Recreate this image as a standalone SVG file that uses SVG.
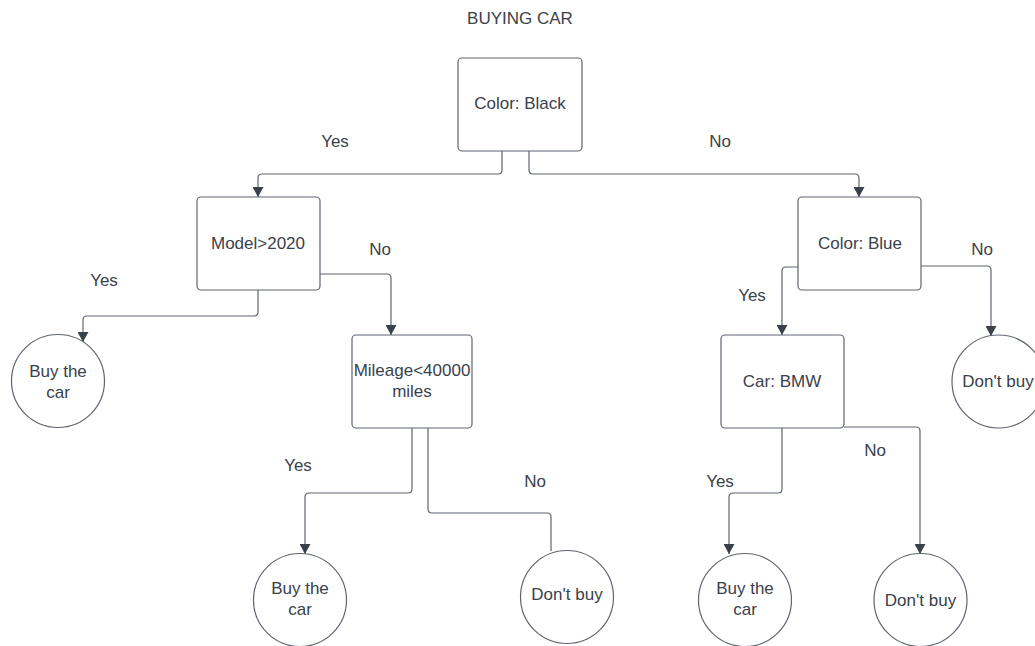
<svg xmlns="http://www.w3.org/2000/svg" width="1035" height="646" viewBox="0 0 1035 646">
<style>
.box{fill:#ffffff;stroke:#5f6570;stroke-width:1.2}
.t{font-family:"Liberation Sans",Arial,sans-serif;font-size:17px;fill:#3a414a;text-anchor:middle;dominant-baseline:central}
.c{fill:none;stroke:#5f6570;stroke-width:1.2}
</style>
<defs>
<marker id="ah" markerUnits="userSpaceOnUse" markerWidth="10" markerHeight="11" refX="10" refY="5.5" orient="auto">
<path d="M0,0 L10,5.5 L0,11 z" fill="#3a414a"/>
</marker>
</defs>
<rect width="1035" height="646" fill="#ffffff"/>
<text class="t" x="520" y="18">BUYING CAR</text>
<g id="connectors">
<path class="c" marker-end="url(#ah)" d="M502,151 V170 Q502,174 498,174 H262 Q258,174 258,178 V197"/>
<path class="c" marker-end="url(#ah)" d="M529,151 V170 Q529,174 533,174 H855 Q859,174 859,178 V197"/>
<path class="c" marker-end="url(#ah)" d="M258,290 V312 Q258,316 254,316 H87 Q83,316 83,320 V342"/>
<path class="c" marker-end="url(#ah)" d="M320,274 H387 Q391,274 391,278 V335"/>
<path class="c" marker-end="url(#ah)" d="M412,428 V489 Q412,493 408,493 H309 Q305,493 305,497 V554"/>
<path class="c" d="M428,428 V509 Q428,513 432,513 H547 Q551,513 551,517 V551"/>
<path class="c" marker-end="url(#ah)" d="M798,267 H786 Q782,267 782,271 V335"/>
<path class="c" marker-end="url(#ah)" d="M921,266 H987 Q991,266 991,270 V336"/>
<path class="c" marker-end="url(#ah)" d="M782,428 V489 Q782,493 778,493 H733 Q729,493 729,497 V554"/>
<path class="c" marker-end="url(#ah)" d="M844,427 H916 Q920,427 920,431 V554"/>
<text class="t" x="335" y="141">Yes</text>
<text class="t" x="720" y="141">No</text>
<text class="t" x="104" y="280">Yes</text>
<text class="t" x="380" y="249">No</text>
<text class="t" x="298" y="465">Yes</text>
<text class="t" x="535" y="481">No</text>
<text class="t" x="982" y="249">No</text>
<text class="t" x="752" y="295">Yes</text>
<text class="t" x="720" y="481">Yes</text>
<text class="t" x="875" y="450">No</text>
</g>
<g id="root">
<rect class="box" x="458" y="58" width="124" height="93" rx="4"/>
<text class="t" x="520" y="103">Color: Black</text>
</g>
<g id="model">
<rect class="box" x="197" y="197" width="123" height="93" rx="4"/>
<text class="t" x="258" y="243">Model&gt;2020</text>
</g>
<g id="blue">
<rect class="box" x="798" y="197" width="123" height="93" rx="4"/>
<text class="t" x="860" y="243">Color: Blue</text>
</g>
<g id="buy1">
<circle class="box" cx="58" cy="381" r="46.5"/>
<text class="t" x="58" y="371">Buy the</text>
<text class="t" x="58" y="392">car</text>
</g>
<g id="mileage">
<rect class="box" x="352" y="335" width="120" height="93" rx="4"/>
<text class="t" x="412" y="370">Mileage&lt;40000</text>
<text class="t" x="412" y="391">miles</text>
</g>
<g id="bmw">
<rect class="box" x="721" y="335" width="123" height="93" rx="4"/>
<text class="t" x="782" y="381">Car: BMW</text>
</g>
<g id="dontbuy1">
<circle class="box" cx="998.5" cy="381.5" r="46.5"/>
<text class="t" x="998" y="381">Don't buy</text>
</g>
<g id="buy2">
<circle class="box" cx="300" cy="600" r="46.5"/>
<text class="t" x="300" y="588">Buy the</text>
<text class="t" x="300" y="609">car</text>
</g>
<g id="dontbuy2">
<circle class="box" cx="567" cy="597" r="46.5"/>
<text class="t" x="567" y="594">Don't buy</text>
</g>
<g id="buy3">
<circle class="box" cx="745" cy="600" r="46.5"/>
<text class="t" x="745" y="588">Buy the</text>
<text class="t" x="745" y="609">car</text>
</g>
<g id="dontbuy3">
<circle class="box" cx="920.5" cy="600" r="46.5"/>
<text class="t" x="920.5" y="600">Don't buy</text>
</g>
</svg>
